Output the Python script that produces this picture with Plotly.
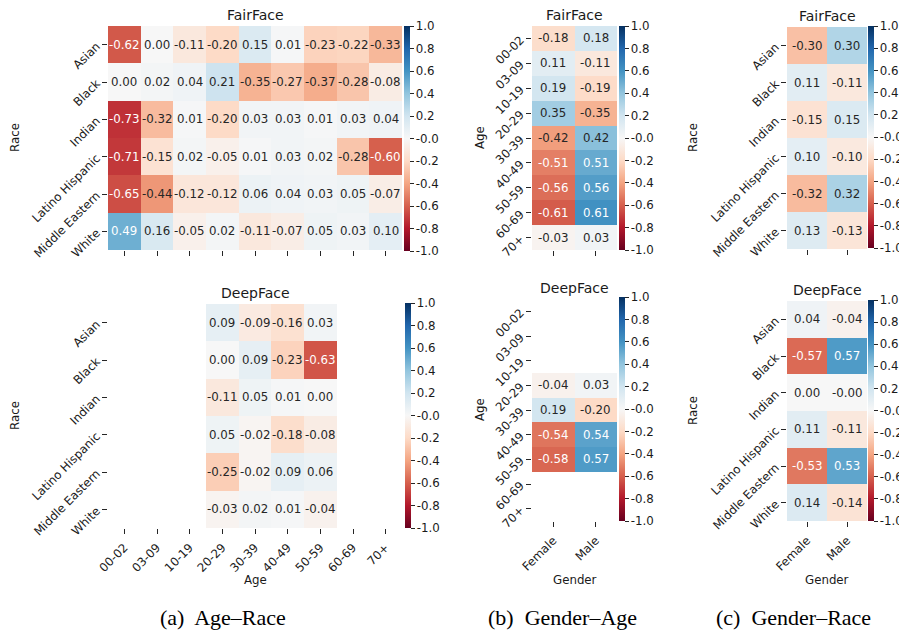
import plotly.graph_objects as go

# the page shows the figure with an 8px body margin; compensate so the
# visible 907x630 window matches the reference
OFF = 8
W, H = 907 - OFF, 630 - OFF

races = ["Asian", "Black", "Indian", "Latino Hispanic", "Middle Eastern", "White"]
ages = ["00-02", "03-09", "10-19", "20-29", "30-39", "40-49", "50-59", "60-69", "70+"]
genders = ["Female", "Male"]

# (a) Age-Race, rows = race, cols = age
age_race_fairface = [
    [-0.62, 0.00, -0.11, -0.20, 0.15, 0.01, -0.23, -0.22, -0.33],
    [0.00, 0.02, 0.04, 0.21, -0.35, -0.27, -0.37, -0.28, -0.08],
    [-0.73, -0.32, 0.01, -0.20, 0.03, 0.03, 0.01, 0.03, 0.04],
    [-0.71, -0.15, 0.02, -0.05, 0.01, 0.03, 0.02, -0.28, -0.60],
    [-0.65, -0.44, -0.12, -0.12, 0.06, 0.04, 0.03, 0.05, -0.07],
    [0.49, 0.16, -0.05, 0.02, -0.11, -0.07, 0.05, 0.03, 0.10],
]
age_race_deepface = [
    [None, None, None, 0.09, -0.09, -0.16, 0.03, None, None],
    [None, None, None, 0.00, 0.09, -0.23, -0.63, None, None],
    [None, None, None, -0.11, 0.05, 0.01, 0.00, None, None],
    [None, None, None, 0.05, -0.02, -0.18, -0.08, None, None],
    [None, None, None, -0.25, -0.02, 0.09, 0.06, None, None],
    [None, None, None, -0.03, 0.02, 0.01, -0.04, None, None],
]
# (b) Gender-Age, rows = age, cols = gender
gender_age_fairface = [
    [-0.18, 0.18], [0.11, -0.11], [0.19, -0.19], [0.35, -0.35], [-0.42, 0.42],
    [-0.51, 0.51], [-0.56, 0.56], [-0.61, 0.61], [-0.03, 0.03],
]
gender_age_deepface = [
    [None, None], [None, None], [None, None], [-0.04, 0.03], [0.19, -0.20],
    [-0.54, 0.54], [-0.58, 0.57], [None, None], [None, None],
]
# (c) Gender-Race, rows = race, cols = gender
gender_race_fairface = [
    [-0.30, 0.30], [0.11, -0.11], [-0.15, 0.15], [0.10, -0.10], [-0.32, 0.32], [0.13, -0.13],
]
gender_race_deepface = [
    [0.04, -0.04], [-0.57, 0.57], [0.00, -0.0], [0.11, -0.11], [-0.53, 0.53], [0.14, -0.14],
]

cbar_vals = [-1.0, -0.8, -0.6, -0.4, -0.2, 0.0, 0.2, 0.4, 0.6, 0.8, 1.0]
cbar_text = ["-1.0", "-0.8", "-0.6", "-0.4", "-0.2", "-0.0", "0.2", "0.4", "0.6", "0.8", "1.0"]

RDBU = [(103, 0, 31), (178, 24, 43), (214, 96, 77), (244, 165, 130), (253, 219, 199),
        (247, 247, 247), (209, 229, 240), (146, 197, 222), (67, 147, 195), (33, 102, 172),
        (5, 48, 97)]
colorscale = [[i / 10, "rgb(%d,%d,%d)" % c] for i, c in enumerate(RDBU)]


def color_at(v):
    t = (max(-1, min(1, v)) + 1) / 2 * 10
    i = min(int(t), 9)
    f = t - i
    a, b = RDBU[i], RDBU[i + 1]
    return [a[k] + (b[k] - a[k]) * f for k in range(3)]


def lum(rgb):
    out = []
    for c in rgb:
        c = c / 255
        out.append(c / 12.92 if c <= 0.03928 else ((c + 0.055) / 1.055) ** 2.4)
    return 0.2126 * out[0] + 0.7152 * out[1] + 0.0722 * out[2]


def text_color(v):
    return "white" if lum(color_at(v)) < 0.408 else "#262626"


def px_x(x):
    return (x - OFF) / W


def px_y(y):
    return 1 - (y - OFF) / H


FONT = "DejaVu Sans"
TICK_FS = 11.8
TITLE_FS = 14
TXT = "#1a1a1a"

panels = [
    # z, xcats, ycats, title, (x0,x1,y0,y1) px, (cbx, cbtop, cblen), show xlabels, xtitle, ytitle, ytitle_x
    (age_race_fairface, ages, races, "FairFace", (108, 402, 26, 250), (404, 26, 225), False, None, "Race", 15),
    (gender_age_fairface, genders, ages, "FairFace", (532, 617, 26, 250), (619, 26, 224), False, None, "Age", 480),
    (gender_race_fairface, genders, races, "FairFace", (787, 867, 27, 249), (868, 26, 222), False, None, "Race", 693),
    (age_race_deepface, ages, races, "DeepFace", (108, 402, 304, 528), (405, 303, 225), True, "Age", "Race", 15),
    (gender_age_deepface, genders, ages, "DeepFace", (532, 617, 299, 521), (619, 297, 224), True, "Gender", "Age", 480),
    (gender_race_deepface, genders, races, "DeepFace", (787, 867, 301, 521), (868, 300, 221), True, "Gender", "Race", 693),
]

fig = go.Figure()
annotations = []
layout_axes = {}

for k, (z, xc, yc, title, box, cb, showx, xtitle, ytitle, ytx) in enumerate(panels):
    n = k + 1
    xa = "x" if n == 1 else "x%d" % n
    ya = "y" if n == 1 else "y%d" % n
    x0, x1, y0, y1 = box
    cbx, cbtop, cblen = cb
    fig.add_trace(go.Heatmap(
        z=z, x=xc, y=yc, xaxis=xa, yaxis=ya,
        zmin=-1, zmax=1, colorscale=colorscale, hoverinfo="skip",
        colorbar=dict(
            x=px_x(cbx), xanchor="left", xref="paper", xpad=0,
            y=px_y(cbtop), yanchor="top", yref="paper", ypad=0,
            len=cblen, lenmode="pixels", thickness=6, thicknessmode="pixels",
            outlinewidth=0, borderwidth=0, tickvals=cbar_vals, ticktext=cbar_text,
            ticks="outside", ticklen=4, tickwidth=1, tickcolor="#262626",
            tickfont=dict(family=FONT, size=TICK_FS, color=TXT),
        ),
    ))
    axkey_x = "xaxis" if n == 1 else "xaxis%d" % n
    axkey_y = "yaxis" if n == 1 else "yaxis%d" % n
    layout_axes[axkey_x] = dict(
        domain=[px_x(x0), px_x(x1)], anchor=ya, type="category", automargin=False,
        range=[-0.5, len(xc) - 0.5], showgrid=False, zeroline=False, showline=False,
        ticks="outside", ticklen=5, tickwidth=1, tickcolor="#262626",
        showticklabels=showx, tickangle=-45, ticklabelstandoff=2,
        tickfont=dict(family=FONT, size=TICK_FS, color=TXT),
        fixedrange=True,
    )
    layout_axes[axkey_y] = dict(
        domain=[px_y(y1), px_y(y0)], anchor=xa, type="category", automargin=False,
        range=[len(yc) - 0.5, -0.5], showgrid=False, zeroline=False, showline=False,
        ticks="outside", ticklen=5, tickwidth=1, tickcolor="#262626",
        tickangle=-45, ticklabelstandoff=3,
        tickfont=dict(family=FONT, size=TICK_FS, color=TXT),
        fixedrange=True,
    )
    # cell annotations
    for i, row in enumerate(z):
        for j, v in enumerate(row):
            if v is None:
                continue
            annotations.append(dict(
                x=xc[j], y=yc[i], xref=xa, yref=ya, text=format(v, ".2f"),
                showarrow=False, font=dict(family=FONT, size=TICK_FS, color=text_color(v)),
            ))
    # title
    annotations.append(dict(
        x=px_x((x0 + x1) / 2), y=px_y(y0 - 11), xref="paper", yref="paper",
        text=title, showarrow=False, xanchor="center", yanchor="middle",
        font=dict(family=FONT, size=TITLE_FS, color=TXT),
    ))
    # y title
    annotations.append(dict(
        x=px_x(ytx), y=px_y((y0 + y1) / 2), xref="paper", yref="paper",
        text=ytitle, showarrow=False, textangle=-90, xanchor="center", yanchor="middle",
        font=dict(family=FONT, size=TICK_FS, color=TXT),
    ))
    if xtitle:
        annotations.append(dict(
            x=px_x((x0 + x1) / 2), y=px_y(580), xref="paper", yref="paper",
            text=xtitle, showarrow=False, xanchor="center", yanchor="middle",
            font=dict(family=FONT, size=TICK_FS, color=TXT),
        ))

captions = [("(a)\u00a0 Age\u2013Race", 223), ("(b)\u00a0 Gender\u2013Age", 562), ("(c)\u00a0 Gender\u2013Race", 793)]
for text, cx in captions:
    annotations.append(dict(
        x=px_x(cx), y=px_y(617), xref="paper", yref="paper", text=text,
        showarrow=False, xanchor="center", yanchor="middle",
        font=dict(family="Liberation Serif", size=22, color="black"),
    ))

fig.update_layout(
    template="none",
    width=W, height=H, margin=dict(l=0, r=0, t=0, b=0, autoexpand=False),
    paper_bgcolor="white", plot_bgcolor="white",
    font=dict(family=FONT, size=TICK_FS, color=TXT),
    showlegend=False, annotations=annotations, **layout_axes,
)

fig.write_html("out.html")
